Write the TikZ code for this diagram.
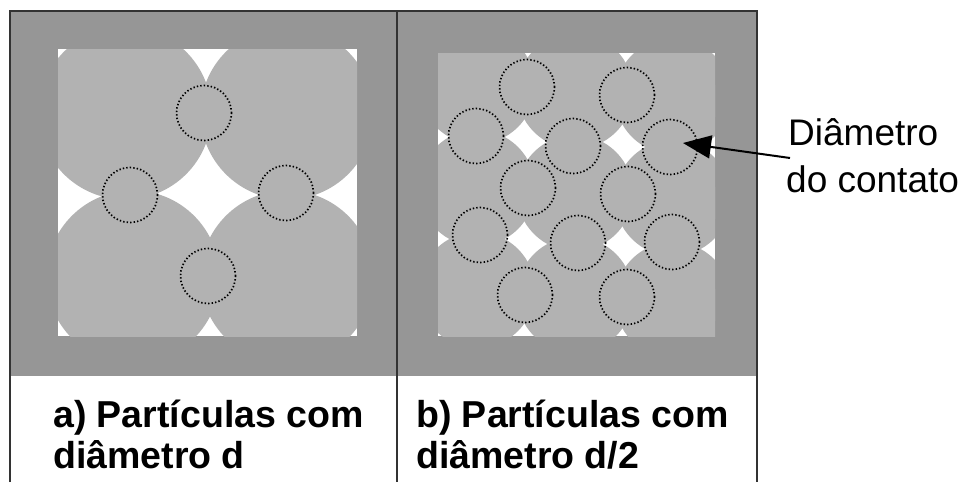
\documentclass[tikz,border=0pt]{standalone}
\usepackage{fontspec}
\setmainfont{Liberation Sans}
\usetikzlibrary{arrows.meta}
\definecolor{framegray}{RGB}{150,150,150}
\definecolor{partgray}{RGB}{178,178,178}
\begin{document}
\begin{tikzpicture}[x=1pt,y=-1pt,
 contact/.style={circle, draw=black, line width=1.7pt, dash pattern=on 1.4pt off 2.1pt, minimum size=55pt, inner sep=0pt},
 framerule/.style={draw=black!80, line width=1.5pt},
 capt/.style={font=\fontsize{37.5}{41}\selectfont\bfseries, anchor=base west, inner sep=0pt},
 note/.style={font=\fontsize{37}{44}\selectfont, anchor=base west, inner sep=0pt}]
\useasboundingbox (0,0) rectangle (974,482);
\fill[white] (0,0) rectangle (974,482);
\fill[framegray] (10,11) rectangle (757,376);
% panel a
\begin{scope}
\clip (58,49) rectangle (357,336);
\fill[white] (58,49) rectangle (357,336);
\fill[partgray] (125,113) circle[radius=86.5] (287,113) circle[radius=86.5]
  (133,277) circle[radius=86.5] (287,277) circle[radius=86.5];
\end{scope}
% panel b
\begin{scope}
\clip (438,53) rectangle (715,336);
\fill[white] (438,53) rectangle (715,336);
\foreach \i in {-1,...,3}{
  \foreach \j in {-1,...,3}{
    \fill[partgray] ({477+98*\i},{86+102*\j+5*\i}) circle[radius=58];
  }
}
\end{scope}
% contact circles a
\node[contact] (ca1) at (204,113) {};
\node[contact] (ca2) at (130,195) {};
\node[contact] (ca3) at (286,193) {};
\node[contact] (ca4) at (208,276) {};
% contact circles b
\node[contact] (cb1) at (527,87) {};
\node[contact] (cb2) at (627,95) {};
\node[contact] (cb3) at (476,136) {};
\node[contact] (cb4) at (573,146) {};
\node[contact] (cb5) at (670,147) {};
\node[contact] (cb6) at (528,188) {};
\node[contact] (cb7) at (628,194) {};
\node[contact] (cb8) at (480,235) {};
\node[contact] (cb9) at (578,243) {};
\node[contact] (cb10) at (672,242) {};
\node[contact] (cb11) at (525,295) {};
\node[contact] (cb12) at (627,297) {};
% frame lines
\draw[framerule] (10,482) -- (10,11) -- (757,11) -- (757,482);
\draw[framerule] (397,11) -- (397,482);
% captions
\node[capt] (la1) at (53,427) {a) Partículas com};
\node[capt] (la2) at (53,468) {diâmetro d};
\node[capt] (lb1) at (416,427) {b) Partículas com};
\node[capt] (lb2) at (416,468) {diâmetro d/2};
\node[note] (n1) at (788,145) {Diâmetro};
\node[note] (n2) at (786,192) {do contato};
% arrow
\coordinate (tail) at (790,158);
\coordinate (tip) at (683,143);
\draw[line width=2pt, -{Triangle[length=28pt,width=23pt]}] (tail) -- (tip);
\end{tikzpicture}
\end{document}
